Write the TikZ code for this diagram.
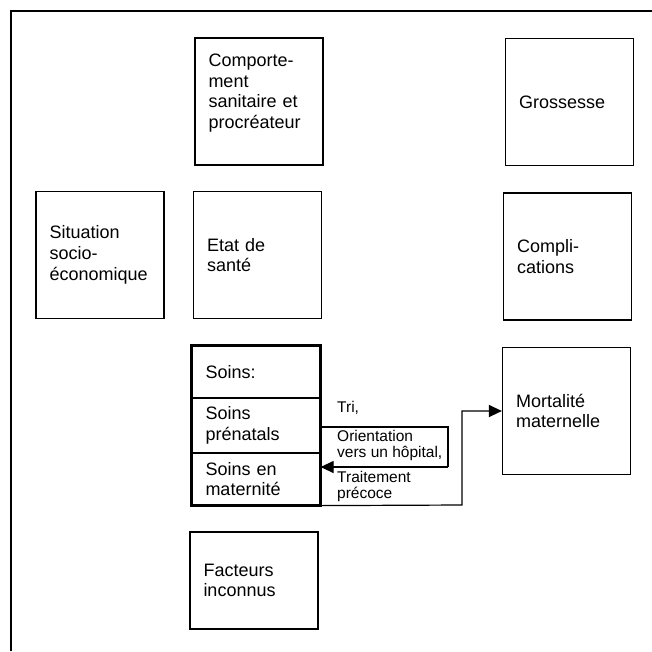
\documentclass[tikz,border=0pt]{standalone}
\usepackage{fontspec}
\setmainfont{Liberation Sans}
\usetikzlibrary{arrows.meta}

\begin{document}
\begin{tikzpicture}[x=1pt,y=-1pt]
\tikzstyle{every node}+=[inner sep=0pt]
\tikzstyle{box}=[draw, line width=1.2pt, minimum width=128pt, minimum height=127pt, text width=101pt, inner xsep=13.5pt, align=left, font=\fontsize{18}{20.7}\selectfont]
\tikzstyle{part}=[draw, line width=1.2pt, minimum width=128pt, text width=101pt, inner xsep=13.5pt, align=left, font=\fontsize{18}{20.7}\selectfont]
\tikzstyle{lab}=[anchor=west, align=left, font=\fontsize{15.5}{16}\selectfont]
\tikzstyle{wire}=[line width=1.2pt]
\tikzstyle{tip}=[-{Triangle[length=13pt,width=12pt]}]
\useasboundingbox (0,0) rectangle (652,651);
\draw [wire] (11,651) -- (11,11) -- (652,11);
\node [box] (comportement) at (259,101.5) {Comporte-\\ment\\sanitaire et\\procréateur\\\mbox{}};
\node [box] (grossesse) at (569.5,102) {Grossesse};
\node [box] (situation) at (100,255) {Situation\\socio-\\économique};
\node [box] (etat) at (257.5,255) {Etat de\\santé};
\node [box] (complications) at (567.5,256.5) {Compli-\\cations};
\node [part, minimum height=52pt] (soinsA) at (256,372) {Soins:};
\node [part, minimum height=55pt] (soinsB) at (256,425.5) {Soins\\prénatals};
\node [part, minimum height=52pt] (soinsC) at (256,479) {Soins en\\maternité};
\draw [line width=3.5pt] (soinsA.north west) rectangle (soinsC.south east);
\node [box] (mortalite) at (566.5,411) {Mortalité\\maternelle};
\node [box, minimum height=97pt] (facteurs) at (254,580.5) {Facteurs\\inconnus};
\node [lab] (tri) at (337,408) {Tri,};
\node [lab] (orientation) at (337,445) {Orientation\\vers un hôpital,};
\node [lab] (traitement) at (337,486) {Traitement\\précoce};
\coordinate (loopTop) at (448,427);
\coordinate (loopBot) at (448,467);
\coordinate (riser) at (462,505);
\draw [wire] (soinsB.east |- loopTop) -- (loopTop) -- (loopBot);
\draw [wire,tip] (loopBot) -- (soinsC.east |- loopBot);
\draw [wire,tip] (soinsC.south east) -- (riser) -- (riser |- mortalite.west) -- (mortalite.west);
\end{tikzpicture}
\end{document}
